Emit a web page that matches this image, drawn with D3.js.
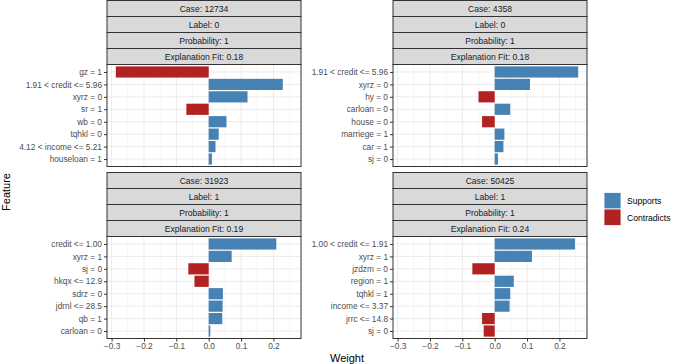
<!DOCTYPE html>
<html>
<head>
<meta charset="utf-8">
<script src="https://cdn.jsdelivr.net/npm/d3@7"></script>
<style>
  body { margin: 0; background: #fff; }
  text { font-family: "Liberation Sans", Arial, sans-serif; }
</style>
</head>
<body>
<svg id="chart"></svg>
<script>
// Cases shown in the facets
const cases = ['12734', '4358', '31923', '50425'];
const labels = [0, 0, 1, 1];
const probabilities = [1, 1, 1, 1];
const fits = [0.18, 0.18, 0.19, 0.24];

// Features and weights per case (top to bottom)
const features12734 = ['gz = 1', '1.91 < credit <= 5.96', 'xyrz = 0', 'sr = 1', 'wb = 0', 'tqhkl = 0', '4.12 < income <= 5.21', 'houseloan = 1'];
const weights12734 = [-0.287, 0.229, 0.120, -0.069, 0.055, 0.031, 0.021, 0.010];

const features4358 = ['1.91 < credit <= 5.96', 'xyrz = 0', 'hy = 0', 'carloan = 0', 'house = 0', 'marriege = 1', 'car = 1', 'sj = 0'];
const weights4358 = [0.258, 0.109, -0.050, 0.048, -0.039, 0.030, 0.027, 0.010];

const features31923 = ['credit <= 1.00', 'xyrz = 1', 'sj = 0', 'hkqx <= 12.9', 'sdrz = 0', 'jdrnl <= 28.5', 'qb = 1', 'carloan = 0'];
const weights31923 = [0.209, 0.071, -0.063, -0.044, 0.044, 0.043, 0.042, 0.005];

const features50425 = ['1.00 < credit <= 1.91', 'xyrz = 1', 'jzdzm = 0', 'region = 1', 'tqhkl = 1', 'income <= 3.37', 'jrrc <= 14.8', 'sj = 0'];
const weights50425 = [0.248, 0.115, -0.069, 0.059, 0.048, 0.046, -0.039, -0.034];

const features = [features12734, features4358, features31923, features50425];
const weights = [weights12734, weights4358, weights31923, weights50425];

const xTicks = [-0.3, -0.2, -0.1, 0.0, 0.1, 0.2];
const xMinor = [-0.25, -0.15, -0.05, 0.05, 0.15, 0.25];
const legendKeys = ['Supports', 'Contradicts'];

const W = 677, H = 364;
const color = d3.scaleOrdinal().domain(legendKeys).range(['#4682B4', '#B22222']);

const svg = d3.select('#chart').attr('width', W).attr('height', H);
svg.append('rect').attr('width', W).attr('height', H).attr('fill', '#fff');

// layout
const panelLeft = [107, 393];
const stripTop = [0.5, 172.5];
const stripH = 16;
const panelW = 194, panelH = 102;

// shared x scale, ggplot style 5% expansion
const all = weights.flat();
const lo = d3.min(all), hi = d3.max(all);
const ex = (hi - lo) * 0.05;
const x = d3.scaleLinear().domain([lo - ex, hi + ex]).range([0, panelW]);

cases.forEach((c, i) => {
  const col = i % 2, row = Math.floor(i / 2);
  const left = panelLeft[col];
  const top = stripTop[row];
  const g = svg.append('g').attr('transform', `translate(${left},${top})`);

  // strips
  const stripText = [`Case: ${c}`, `Label: ${labels[i]}`, `Probability: ${probabilities[i]}`, `Explanation Fit: ${fits[i].toFixed(2)}`];
  stripText.forEach((t, k) => {
    g.append('rect')
      .attr('x', 0).attr('y', k * stripH)
      .attr('width', panelW).attr('height', stripH)
      .attr('fill', '#d9d9d9').attr('stroke', '#333').attr('stroke-width', 1);
    g.append('text')
      .attr('x', panelW / 2).attr('y', k * stripH + stripH / 2)
      .attr('dy', '0.35em').attr('text-anchor', 'middle')
      .style('font-size', '8.6px').attr('fill', '#1a1a1a')
      .text(t);
  });

  // panel
  const p = g.append('g').attr('transform', `translate(0,${4 * stripH})`);
  p.append('rect').attr('width', panelW).attr('height', panelH).attr('fill', '#fff');

  const y = d3.scalePoint().domain(features[i]).range([0, panelH]).padding(0.6);
  const step = y.step();

  p.selectAll('.minor').data(xMinor).join('line')
    .attr('x1', d => x(d)).attr('x2', d => x(d))
    .attr('y1', 0).attr('y2', panelH)
    .attr('stroke', '#ebebeb').attr('stroke-width', 0.5);
  p.selectAll('.vmajor').data(xTicks).join('line')
    .attr('x1', d => x(d)).attr('x2', d => x(d))
    .attr('y1', 0).attr('y2', panelH)
    .attr('stroke', '#ebebeb').attr('stroke-width', 1);
  p.selectAll('.hmajor').data(features[i]).join('line')
    .attr('x1', 0).attr('x2', panelW)
    .attr('y1', d => y(d)).attr('y2', d => y(d))
    .attr('stroke', '#ebebeb').attr('stroke-width', 1);

  // bars
  p.selectAll('.bar').data(features[i].map((f, k) => ({ f, w: weights[i][k] }))).join('rect')
    .attr('x', d => x(Math.min(0, d.w)))
    .attr('width', d => Math.abs(x(d.w) - x(0)))
    .attr('y', d => y(d.f) - step * 0.45)
    .attr('height', step * 0.9)
    .attr('fill', d => color(d.w >= 0 ? 'Supports' : 'Contradicts'));

  p.append('rect').attr('width', panelW).attr('height', panelH)
    .attr('fill', 'none').attr('stroke', '#333').attr('stroke-width', 1);

  // y axis
  const ya = p.append('g').call(d3.axisLeft(y).tickSize(3).tickPadding(2));
  ya.select('.domain').remove();
  ya.selectAll('line').attr('stroke', '#333');
  ya.selectAll('text').style('font-size', '8.3px').attr('fill', '#4d4d4d');

  // x axis only on bottom row
  if (row === 1) {
    const xa = p.append('g').attr('transform', `translate(0,${panelH})`)
      .call(d3.axisBottom(x).tickValues(xTicks).tickSize(3).tickPadding(2).tickFormat(d3.format('.1f')));
    xa.select('.domain').remove();
    xa.selectAll('line').attr('stroke', '#333');
    xa.selectAll('text').style('font-size', '8.3px').attr('fill', '#4d4d4d');
  }
});

// axis titles
svg.append('text')
  .attr('x', 347).attr('y', 362)
  .attr('text-anchor', 'middle')
  .style('font-size', '11px').attr('fill', '#000')
  .text('Weight');

svg.append('text')
  .attr('transform', 'translate(10,192) rotate(-90)')
  .attr('text-anchor', 'middle')
  .style('font-size', '11px').attr('fill', '#000')
  .text('Feature');

// legend
const legend = svg.append('g').attr('transform', 'translate(604,192.5)');
legendKeys.forEach((k, i) => {
  const r = legend.append('g').attr('transform', `translate(0,${i * 16.5})`);
  r.append('rect').attr('width', 17).attr('height', 16.5)
    .attr('fill', color(k)).attr('stroke', '#fff').attr('stroke-width', 0.8);
  r.append('text').attr('x', 23).attr('y', 8.5).attr('dy', '0.35em')
    .style('font-size', '8.6px').attr('fill', '#000')
    .text(k);
});
</script>
</body>
</html>
